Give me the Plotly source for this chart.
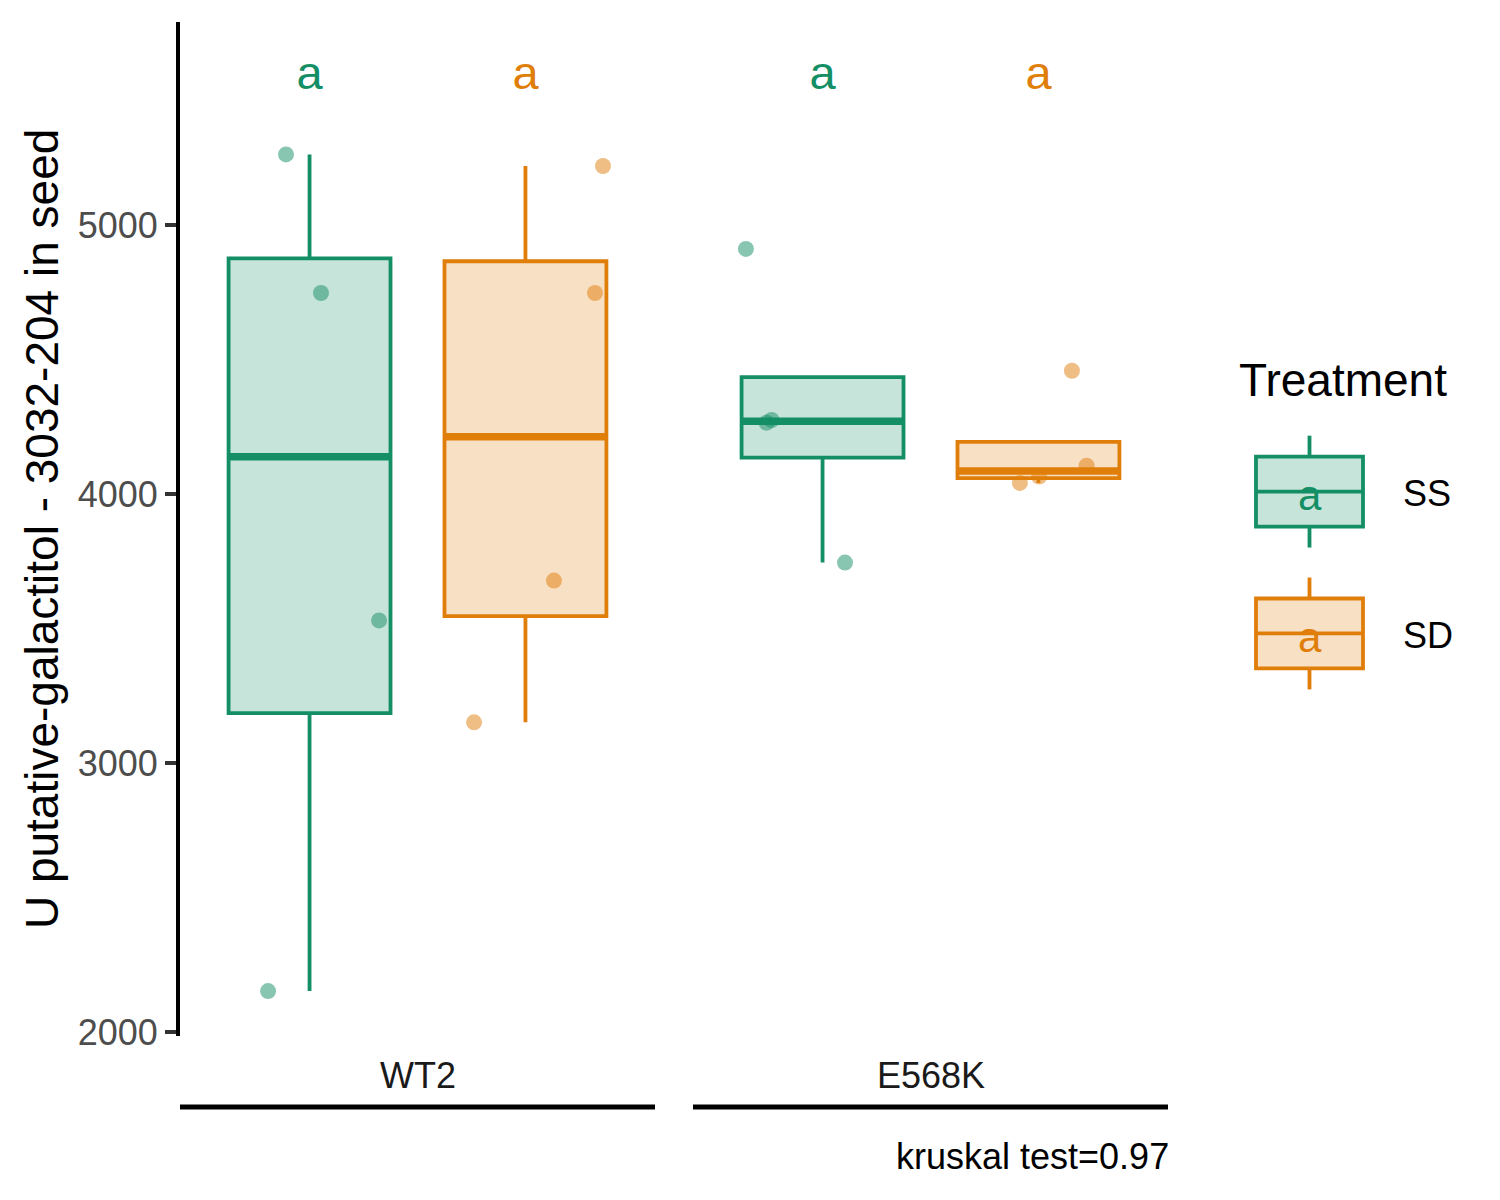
import numpy as np
import plotly.graph_objects as go

# ---------------- data ----------------
genotypes = ["WT2", "E568K"]
treatments = ["SS", "SD"]

# values (4 seeds per group)
ss_wt2 = [5262, 4747, 3530, 2152]
sd_wt2 = [5219, 4747, 3678, 3151]
ss_e568k = [4911, 4265, 4275, 3745]
sd_e568k = [4458, 4105, 4041, 4065]

# horizontal jitter of each point (category units)
jit_ss_wt2 = [-0.109, 0.053, 0.322, -0.192]
jit_sd_wt2 = [0.359, 0.322, 0.132, -0.238]
jit_ss_e568k = [-0.355, -0.259, -0.236, 0.104]
jit_sd_e568k = [0.155, 0.223, -0.086, 0.003]

letters_ss = ["a", "a"]
letters_sd = ["a", "a"]
letter_y = 5550

y_ticks = [2000, 3000, 4000, 5000]
y_title = "U putative-galactitol - 3032-204 in seed"
caption = "kruskal test=0.97"
legend_title = "Treatment"

# ---------------- styles ----------------
FONT = "Liberation Sans, Arial, sans-serif"
COL = {"SS": (20, 142, 100), "SD": (224, 126, 10)}


def rgba(c, a):
    return f"rgba({c[0]},{c[1]},{c[2]},{a})"


# page has an 8px body margin; the captured page height is 1216 px
OFF = 8
SY = 1216 / 1200
W, H = 1500 - 2 * OFF, 1200


def px(v):
    return (v - OFF) / W


def py(v):
    return 1 - (v * SY - OFF) / H


PX0, PX1 = 180, 655
PX2, PX3 = 693, 1168
PY_TOP, PY_BOT = 22, 1037
BOX_W = 0.75
BOX_LW = 3.8
MED_LW = 7.5

groups = {
    ("WT2", "SS"): (ss_wt2, jit_ss_wt2),
    ("WT2", "SD"): (sd_wt2, jit_sd_wt2),
    ("E568K", "SS"): (ss_e568k, jit_ss_e568k),
    ("E568K", "SD"): (sd_e568k, jit_sd_e568k),
}


def box_stats(v):
    v = np.asarray(v, dtype=float)
    q1, med, q3 = np.percentile(v, [25, 50, 75])
    iqr = q3 - q1
    inside = v[(v >= q1 - 1.5 * iqr) & (v <= q3 + 1.5 * iqr)]
    lo = min(q1, inside.min())
    hi = max(q3, inside.max())
    return q1, med, q3, lo, hi


fig = go.Figure()
# points on the base axes, boxes/medians/letters on overlay axes (drawn on top)
pt_axes = {"WT2": ("x", "y"), "E568K": ("x2", "y2")}
bx_axes = {"WT2": ("x3", "y3"), "E568K": ("x4", "y4")}

point_traces, box_traces, median_traces, text_traces = [], [], [], []
for g in genotypes:
    pxa, pya = pt_axes[g]
    bxa, bya = bx_axes[g]
    for i, t in enumerate(treatments):
        vals, jit = groups[(g, t)]
        pos = i + 1
        q1, med, q3, lo, hi = box_stats(vals)
        c = COL[t]
        point_traces.append(go.Scatter(
            x=[pos + j for j in jit], y=vals, mode="markers",
            marker=dict(size=16, color=rgba(c, 0.5), line=dict(width=0)),
            xaxis=pxa, yaxis=pya, showlegend=False, hoverinfo="skip",
        ))
        box_traces.append(go.Box(
            x=[pos], q1=[q1], median=[med], q3=[q3],
            lowerfence=[lo], upperfence=[hi],
            width=BOX_W, boxpoints=False, whiskerwidth=0,
            fillcolor=rgba(c, 0.24), line=dict(color=rgba(c, 1), width=BOX_LW),
            xaxis=bxa, yaxis=bya, showlegend=False, hoverinfo="skip",
        ))
        median_traces.append(go.Scatter(
            x=[pos - BOX_W / 2, pos + BOX_W / 2], y=[med, med], mode="lines",
            line=dict(color=rgba(c, 1), width=MED_LW),
            xaxis=bxa, yaxis=bya, showlegend=False, hoverinfo="skip",
        ))
        lab = (letters_ss if t == "SS" else letters_sd)[genotypes.index(g)]
        text_traces.append(go.Scatter(
            x=[pos], y=[letter_y], mode="text", text=[lab],
            textposition="middle center",
            textfont=dict(family=FONT, size=47, color=rgba(c, 1)),
            xaxis=bxa, yaxis=bya, showlegend=False, hoverinfo="skip",
        ))

for tr in point_traces + box_traces + median_traces + text_traces:
    fig.add_trace(tr)

yrange = [1985, 5754]
xrange_ = [0.4, 2.6]
ydom = [py(PY_BOT), py(PY_TOP)]
hidden = dict(visible=False, showgrid=False, zeroline=False)

fig.update_layout(
    width=W, height=H,
    margin=dict(l=0, r=0, t=0, b=0),
    paper_bgcolor="white", plot_bgcolor="white",
    font=dict(family=FONT, color="black"),
    showlegend=False,
    xaxis=dict(domain=[px(PX0), px(PX1)], range=xrange_, anchor="y", **hidden),
    xaxis2=dict(domain=[px(PX2), px(PX3)], range=xrange_, anchor="y2", **hidden),
    xaxis3=dict(overlaying="x", range=xrange_, anchor="y3", **hidden),
    xaxis4=dict(overlaying="x2", range=xrange_, anchor="y4", **hidden),
    yaxis=dict(
        domain=ydom, range=yrange, anchor="x",
        showline=True, linecolor="black", linewidth=4,
        ticks="outside", ticklen=11, tickwidth=4, tickcolor="#333333",
        tickvals=y_ticks, ticktext=[str(v) for v in y_ticks],
        tickfont=dict(family=FONT, size=36, color="#4D4D4D"),
        ticklabelstandoff=0,
        showgrid=False, zeroline=False,
    ),
    yaxis2=dict(domain=ydom, range=yrange, anchor="x2", **hidden),
    yaxis3=dict(overlaying="y", range=yrange, anchor="x3", **hidden),
    yaxis4=dict(overlaying="y2", range=yrange, anchor="x4", **hidden),
)

shapes = []
annotations = []

# y title
annotations.append(dict(
    text=y_title, textangle=-90, xref="paper", yref="paper",
    x=px(42), y=(ydom[0] + ydom[1]) / 2, xanchor="center", yanchor="middle",
    showarrow=False, font=dict(family=FONT, size=46, color="black"),
))

# facet strips at the bottom
for g, xr in zip(genotypes, ["x domain", "x2 domain"]):
    shapes.append(dict(type="line", xref=xr, yref="paper", x0=0, x1=1,
                       y0=py(1108), y1=py(1108),
                       line=dict(color="black", width=5)))
    annotations.append(dict(text=g, xref=xr, yref="paper", x=0.5, y=py(1076),
                            xanchor="center", yanchor="middle", showarrow=False,
                            font=dict(family=FONT, size=36, color="#1A1A1A")))

# caption
annotations.append(dict(text=caption, xref="paper", yref="paper",
                        x=px(PX3 + 3), y=py(1158), xanchor="right", yanchor="middle",
                        showarrow=False, font=dict(family=FONT, size=36, color="black")))

# legend (drawn by hand to mimic ggplot keys)
annotations.append(dict(text=legend_title, xref="paper", yref="paper",
                        x=px(1237), y=py(380), xanchor="left", yanchor="middle",
                        showarrow=False, font=dict(family=FONT, size=46, color="black")))
KX0, KX1 = 1256, 1363
KXC = (KX0 + KX1) / 2
for t, yc in zip(treatments, [492, 634]):
    c = COL[t]
    shapes.append(dict(type="line", xref="paper", yref="paper",
                       x0=px(KXC), x1=px(KXC), y0=py(yc - 56), y1=py(yc - 35),
                       line=dict(color=rgba(c, 1), width=BOX_LW)))
    shapes.append(dict(type="line", xref="paper", yref="paper",
                       x0=px(KXC), x1=px(KXC), y0=py(yc + 35), y1=py(yc + 56),
                       line=dict(color=rgba(c, 1), width=BOX_LW)))
    shapes.append(dict(type="rect", xref="paper", yref="paper",
                       x0=px(KX0), x1=px(KX1), y0=py(yc + 35), y1=py(yc - 35),
                       fillcolor=rgba(c, 0.24), line=dict(color=rgba(c, 1), width=BOX_LW)))
    shapes.append(dict(type="line", xref="paper", yref="paper",
                       x0=px(KX0), x1=px(KX1), y0=py(yc), y1=py(yc),
                       line=dict(color=rgba(c, 1), width=BOX_LW)))
    annotations.append(dict(text="a", xref="paper", yref="paper",
                            x=px(KXC), y=py(yc + 4), xanchor="center", yanchor="middle",
                            showarrow=False, font=dict(family=FONT, size=42, color=rgba(c, 1))))
    annotations.append(dict(text=t, xref="paper", yref="paper",
                            x=px(1401), y=py(yc + 2), xanchor="left", yanchor="middle",
                            showarrow=False, font=dict(family=FONT, size=36, color="black")))

fig.update_layout(shapes=shapes, annotations=annotations)
fig.write_html("out.html", config={"displayModeBar": False, "staticPlot": True})
